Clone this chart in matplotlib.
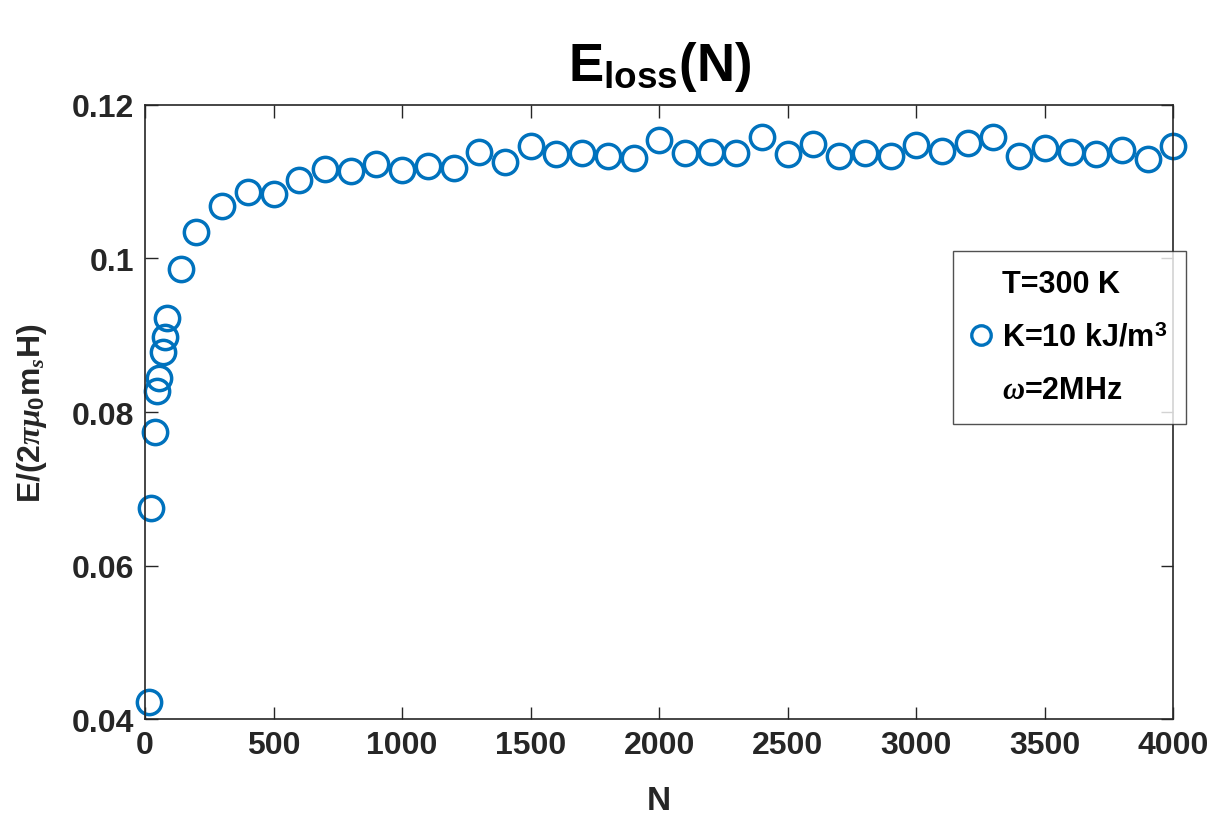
import numpy as np
import matplotlib.pyplot as plt
from matplotlib.lines import Line2D

plt.rcParams['font.family'] = ['Liberation Sans', 'DejaVu Sans']
plt.rcParams['font.weight'] = 'bold'
plt.rcParams['mathtext.fontset'] = 'custom'
plt.rcParams['mathtext.rm'] = 'Liberation Sans:bold'
plt.rcParams['mathtext.it'] = 'Liberation Serif:italic'

# Daten
N = [16, 25, 39, 47, 56, 70, 78, 87, 140, 200,
     300, 400, 500, 600, 700, 800, 900, 1000, 1100, 1200,
     1300, 1400, 1500, 1600, 1700, 1800, 1900, 2000, 2100, 2200,
     2300, 2400, 2500, 2600, 2700, 2800, 2900, 3000, 3100, 3200,
     3300, 3400, 3500, 3600, 3700, 3800, 3900, 4000]
E = [0.0422, 0.0675, 0.0774, 0.0827, 0.0844, 0.0878, 0.0898, 0.0922, 0.0986, 0.1035,
     0.1068, 0.1087, 0.1084, 0.1102, 0.1117, 0.1114, 0.1123, 0.1115, 0.1121, 0.1118,
     0.1139, 0.1126, 0.1146, 0.1136, 0.1138, 0.1134, 0.1131, 0.1154, 0.1138, 0.1139,
     0.1137, 0.1158, 0.1136, 0.1149, 0.1134, 0.1137, 0.1134, 0.1148, 0.1140, 0.1150,
     0.1158, 0.1133, 0.1144, 0.1139, 0.1136, 0.1142, 0.1130, 0.1147]

xticks = [0, 500, 1000, 1500, 2000, 2500, 3000, 3500, 4000]
yticks = [0.04, 0.06, 0.08, 0.1, 0.12]
ytick_labels = ['0.04', '0.06', '0.08', '0.1', '0.12']

blau = '#0072BD'

fig = plt.figure(figsize=(12.22, 8.28), dpi=100)
ax = fig.add_axes([0.1187, 0.1304, 0.8415, 0.7416])

ax.plot(N, E, linestyle='none', marker='o', markersize=17.5,
        markerfacecolor='none', markeredgecolor=blau, markeredgewidth=2.5,
        clip_on=False)

ax.set_xlim(0, 4000)
ax.set_ylim(0.04, 0.12)
ax.set_xticks(xticks)
ax.set_yticks(yticks)
ax.set_yticklabels(ytick_labels)
ax.tick_params(direction='in', top=True, right=True, length=9, width=1,
               labelsize=23, colors='#262626', pad=8)
for lbl in ax.get_xticklabels() + ax.get_yticklabels():
    lbl.set_fontweight('bold')
for s in ax.spines.values():
    s.set_color('#262626')
    s.set_linewidth(1.2)

ax.set_xlabel('N', fontsize=24, fontweight='bold', color='#262626', labelpad=18)
ax.set_ylabel(r'E/(2$\it{\pi\mu}_0$m$_s$H)', fontsize=23, fontweight='bold',
              color='#262626', labelpad=16)
ax.set_title(r'E$_{\mathrm{loss}}$(N)', fontsize=38, fontweight='bold', pad=18)

# Legende
h_leer = Line2D([], [], linestyle='none', marker='None')
h_kreis = Line2D([], [], linestyle='none', marker='o', markersize=14,
                 markerfacecolor='none', markeredgecolor=blau, markeredgewidth=2.4)
leg = ax.legend([h_leer, h_kreis, h_leer],
                ['T=300 K', r'K=10 kJ/m$^3$', r'$\omega$=2MHz'],
                loc='upper left', bbox_to_anchor=(0.786, 0.762),
                fontsize=22, frameon=True, fancybox=False, handlelength=0.6,
                handletextpad=0.4, borderpad=0.6, labelspacing=0.75,
                borderaxespad=0)
leg.get_frame().set_edgecolor('#262626')
leg.get_frame().set_linewidth(1.0)
for t in leg.get_texts():
    t.set_fontweight('bold')

fig.savefig('out.png', dpi=100)
